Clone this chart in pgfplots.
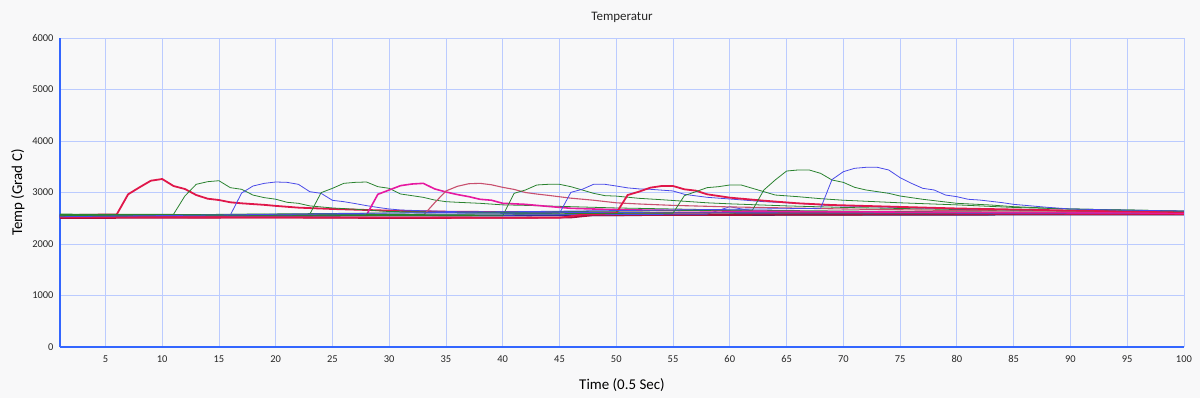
\documentclass[border=0pt]{standalone}
\usepackage{pgfplots}
\pgfplotsset{compat=1.18}
\usepackage{fontspec}
\setmainfont{Carlito}
\definecolor{crim}{HTML}{E0174A}
\definecolor{grn}{HTML}{2A822F}
\definecolor{blu}{HTML}{4A4AE8}
\definecolor{mag}{HTML}{E619A0}
\definecolor{pale}{HTML}{C8506E}
\definecolor{navy}{HTML}{22227A}
\definecolor{dred}{HTML}{A8103E}
\definecolor{gridc}{HTML}{BBCBFF}
\definecolor{axc}{HTML}{3366FF}
\definecolor{bg}{HTML}{F8F8F9}
\begin{document}
\begin{tikzpicture}
\path[use as bounding box, fill=bg] (-60bp,-51bp) rectangle (1140bp,347bp);
\begin{axis}[
  at={(0,0)}, anchor=south west,
  scale only axis, width=1124bp, height=309bp,
  xmin=1, xmax=100, ymin=0, ymax=6000,
  xtick={5,10,...,100}, ytick={0,1000,...,6000},
  grid=major,
  major grid style={gridc, line width=0.8pt},
  axis line style={axc, line width=1.2pt},
  axis x line=bottom, axis y line=left,
  x axis line style={-}, y axis line style={-},
  major tick length=0pt,
  tick label style={font=\fontsize{10.5}{11}\selectfont, text=black!85, /pgf/number format/assume math mode=true},
  /pgf/number format/1000 sep={},
  xticklabel style={yshift=-5bp},
  yticklabel style={xshift=-3bp},
  xlabel={Time (0.5 Sec)},
  ylabel={Temp (Grad C)},
  label style={font=\fontsize{15}{16}\selectfont},
  xlabel style={at={(axis description cs:0.5,0)}, anchor=center, yshift=-38bp},
  ylabel style={at={(axis description cs:-0.0374,0.5)}, anchor=center, rotate=0},
  axis background/.style={fill=bg},
  clip=true,
]
% baseline-only series
\addplot[navy, line width=1.8pt] coordinates {(1,2545)(20,2550)(40,2555)(60,2565)(80,2570)(100,2575)};
\addplot[dred, line width=1.8pt] coordinates {(1,2505)(10,2510)(20,2515)(30,2505)(40,2510)(46,2515)(48,2560)(60,2565)(80,2575)(100,2580)};
\addplot[blu, line width=0.8pt] coordinates {(1,2535)(17,2550)(19,2575)(21,2555)(40,2560)(58,2580)(60,2724)(62,2640)(80,2610)(100,2600)};
% pulse series
\addplot[crim, line width=1.8pt] coordinates {(1,2560)(6,2575)(7,2965)(8,3100)(9,3229)(10,3262)(11,3126)(12,3068)(13,2951)(14,2880)(15,2854)(16,2810)(17,2790)(18,2775)(19,2760)(20,2740)(22,2706)(25,2680)(30,2648)(35,2628)(40,2620)(50,2610)(60,2605)(70,2600)(80,2595)(90,2590)(100,2585)};
\addplot[grn, line width=0.8pt] coordinates {(1,2580)(11,2577)(12,2932)(13,3159)(14,3210)(15,3229)(16,3094)(17,3062)(18,2950)(19,2900)(20,2870)(21,2810)(22,2790)(23,2740)(25,2700)(27,2675)(30,2630)(35,2620)(40,2610)(50,2605)(60,2600)(80,2600)(100,2600)};
\addplot[blu, line width=0.8pt] coordinates {(1,2545)(16,2560)(17,2990)(18,3126)(19,3178)(20,3204)(21,3197)(22,3159)(23,3016)(24,2984)(25,2848)(26,2822)(27,2785)(28,2745)(29,2710)(30,2680)(31,2660)(33,2645)(36,2628)(40,2620)(50,2610)(60,2605)(80,2600)(100,2595)};
\addplot[grn, line width=0.8pt] coordinates {(1,2570)(23,2577)(24,2997)(25,3081)(26,3178)(27,3197)(28,3204)(29,3113)(30,3081)(31,2971)(32,2939)(33,2906)(34,2854)(35,2822)(36,2810)(38,2790)(40,2760)(42,2750)(46,2725)(50,2700)(55,2680)(60,2660)(70,2640)(80,2625)(100,2610)};
\addplot[mag, line width=1.6pt] coordinates {(1,2540)(28,2564)(29,2965)(30,3049)(31,3133)(32,3165)(33,3178)(34,3070)(35,3010)(36,2960)(37,2920)(38,2868)(39,2850)(40,2790)(42,2770)(44,2730)(46,2693)(49,2673)(52,2660)(60,2640)(70,2625)(80,2615)(100,2600)};
\addplot[pale, line width=1.1pt] coordinates {(1,2550)(33,2555)(34,2800)(35,3030)(36,3120)(37,3170)(38,3178)(39,3150)(40,3100)(41,3060)(42,3000)(43,2970)(44,2945)(46,2890)(48,2850)(50,2800)(52,2777)(55,2750)(60,2720)(70,2680)(80,2650)(100,2620)};
\addplot[grn, line width=0.8pt] coordinates {(1,2560)(40,2550)(41,2984)(42,3049)(43,3146)(44,3159)(45,3159)(46,3113)(47,3049)(48,2984)(49,2939)(50,2930)(52,2887)(54,2860)(56,2830)(58,2800)(60,2780)(65,2740)(70,2710)(80,2670)(90,2645)(100,2630)};
\addplot[blu, line width=0.8pt] coordinates {(1,2540)(45,2596)(46,3003)(47,3062)(48,3159)(49,3159)(50,3126)(51,3090)(52,3070)(53,3062)(55,3030)(56,2965)(57,2935)(58,2907)(60,2874)(63,2822)(66,2790)(69,2745)(75,2710)(80,2680)(90,2650)(100,2630)};
\addplot[crim, line width=1.8pt] coordinates {(1,2520)(45,2510)(47,2570)(50,2600)(51,2951)(52,3016)(53,3094)(54,3126)(55,3126)(56,3062)(57,3036)(58,2965)(60,2900)(63,2841)(66,2790)(69,2757)(75,2720)(80,2690)(90,2650)(100,2620)};
\addplot[grn, line width=0.8pt] coordinates {(1,2540)(55,2600)(56,2939)(57,3016)(58,3094)(59,3113)(60,3146)(61,3146)(62,3081)(63,3016)(64,2951)(66,2919)(68,2880)(70,2850)(75,2800)(80,2760)(85,2710)(90,2680)(100,2640)};
\addplot[grn, line width=0.8pt] coordinates {(1,2550)(62,2660)(63,3049)(64,3243)(65,3417)(66,3437)(67,3437)(68,3372)(69,3243)(70,3197)(71,3100)(72,3049)(74,2984)(75,2932)(77,2868)(80,2790)(83,2757)(85,2725)(90,2680)(100,2640)};
\addplot[blu, line width=0.8pt] coordinates {(1,2530)(68,2693)(69,3250)(70,3404)(71,3470)(72,3489)(73,3489)(74,3437)(75,3288)(76,3178)(77,3081)(78,3049)(79,2951)(80,2919)(81,2868)(82,2854)(84,2803)(85,2770)(88,2712)(90,2680)(94,2660)(100,2641)};
\end{axis}
\node[font=\fontsize{13}{14}\selectfont, text=black!85] at (562bp,330bp) {Temperatur};
\end{tikzpicture}
\end{document}
